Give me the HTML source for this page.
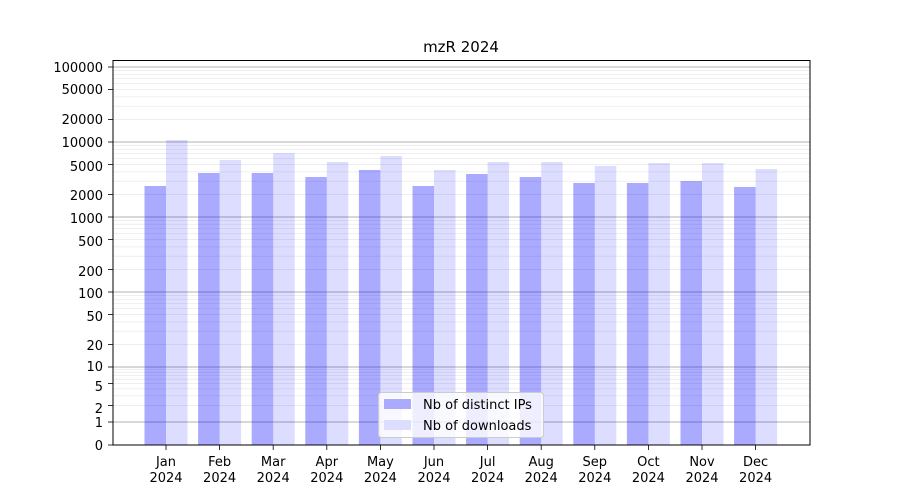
<!DOCTYPE html>
<html><head><meta charset="utf-8"><style>
html,body{margin:0;padding:0;background:#fff;}
svg{display:block;font-family:"DejaVu Sans","Liberation Sans",sans-serif;}
</style></head><body>
<svg id="s" width="900" height="500" viewBox="0 0 900 500" xmlns="http://www.w3.org/2000/svg">
<rect width="900" height="500" fill="#fff"/>
<g id="grid"></g>
<g id="bars"></g>
<rect x="113" y="60.5" width="697" height="384.5" fill="none" stroke="#000" stroke-width="1"/>
<g id="ticks" stroke="#000" stroke-width="0.8"></g>
<text x="461" y="52" font-size="15" text-anchor="middle">mzR 2024</text>
<g font-size="13" text-anchor="end" fill="#000">
<text x="103" y="72">100000</text>
<text x="103" y="94">50000</text>
<text x="103" y="124">20000</text>
<text x="103" y="147">10000</text>
<text x="103" y="171">5000</text>
<text x="103" y="200">2000</text>
<text x="103" y="223">1000</text>
<text x="103" y="246">500</text>
<text x="103" y="276">200</text>
<text x="103" y="298">100</text>
<text x="103" y="321">50</text>
<text x="103" y="350">20</text>
<text x="103" y="371">10</text>
<text x="103" y="391">5</text>
<text x="103" y="413">2</text>
<text x="103" y="427">1</text>
<text x="103" y="450">0</text>
</g>
<g font-size="13" text-anchor="middle" fill="#000">
<text x="166" y="466">Jan</text><text x="166" y="482">2024</text>
<text x="219.6" y="466">Feb</text><text x="219.6" y="482">2024</text>
<text x="273.2" y="466">Mar</text><text x="273.2" y="482">2024</text>
<text x="326.8" y="466">Apr</text><text x="326.8" y="482">2024</text>
<text x="380.4" y="466">May</text><text x="380.4" y="482">2024</text>
<text x="434" y="466">Jun</text><text x="434" y="482">2024</text>
<text x="487.6" y="466">Jul</text><text x="487.6" y="482">2024</text>
<text x="541.2" y="466">Aug</text><text x="541.2" y="482">2024</text>
<text x="594.8" y="466">Sep</text><text x="594.8" y="482">2024</text>
<text x="648.4" y="466">Oct</text><text x="648.4" y="482">2024</text>
<text x="702" y="466">Nov</text><text x="702" y="482">2024</text>
<text x="755.6" y="466">Dec</text><text x="755.6" y="482">2024</text>
</g>
<rect x="378.5" y="392.5" width="165" height="45" rx="3" fill="#fff" fill-opacity="0.8" stroke="#ccc"/>
<rect x="384" y="399" width="27" height="10" fill="#aaaaff"/>
<rect x="384" y="420" width="27" height="10" fill="#ddddff"/>
<text x="423" y="409" font-size="13">Nb of distinct IPs</text>
<text x="423" y="430" font-size="13">Nb of downloads</text>
</svg>
<script>
function y(v){
 if(v<=1) return 445-23*v;
 if(v<=10) return 422-55*Math.log10(v);
 return 367-75*(Math.log10(v)-1);
}
var ns="http://www.w3.org/2000/svg";
function el(p,t,a){var e=document.createElementNS(ns,t);for(var k in a)e.setAttribute(k,a[k]);p.appendChild(e);return e;}
var g=document.getElementById('grid');
for(var d=0;d<=5;d++){
 for(var m=1;m<=9;m++){
  var v=m*Math.pow(10,d); if(v>100000) break;
  var yy=y(v); if(yy<61) continue;
  el(g,'line',{x1:113,x2:810,y1:yy,y2:yy,stroke:m==1?'#b0b0b0':'#ebebeb','stroke-width':m==1?1:0.8});
 }
}
var b=document.getElementById('bars');
var ip=[186,173,173,177,170,186,174,177,183,183,181,187];
var dl=[140,160,153,162,156,170,162,162,166,163,163,169];
for(var i=0;i<12;i++){
 var c=166+53.6*i;
 el(b,'rect',{x:c-21.5,y:ip[i],width:21.5,height:445-ip[i],fill:'#0000ff','fill-opacity':0.333});
 el(b,'rect',{x:c,y:dl[i],width:21.5,height:445-dl[i],fill:'#0000ff','fill-opacity':0.133});
}
var t=document.getElementById('ticks');
[0,1,2,5,10,20,50,100,200,500,1000,2000,5000,10000,20000,50000,100000].forEach(function(v){var yy=y(v);el(t,'line',{x1:108,x2:113,y1:yy,y2:yy});});
for(var i=0;i<12;i++){var c=166+53.6*i;el(t,'line',{x1:c,x2:c,y1:445,y2:450});}
</script>
</body></html>
